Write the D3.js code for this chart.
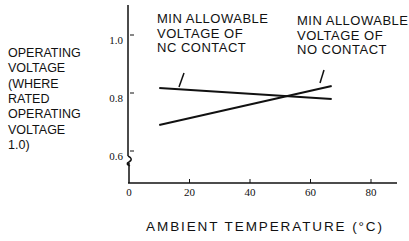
<!DOCTYPE html>
<html>
<head>
<meta charset="utf-8">
<script src="https://cdn.jsdelivr.net/npm/d3@7"></script>
<style>
  body { margin: 0; background: #fff; }
  svg text { fill: #111; }
</style>
</head>
<body>
<div id="chart"></div>
<script>
// data
var temps = [10, 67];
var ncVoltage = [0.817, 0.779];   // min allowable voltage of NC contact
var noVoltage = [0.690, 0.824];   // min allowable voltage of NO contact
var xTicks = [0, 20, 40, 60, 80];
var yTicks = [0.6, 0.8, 1.0];
var yTitle = ["OPERATING", "VOLTAGE", "(WHERE", "RATED", "OPERATING", "VOLTAGE", "1.0)"];
var ncLabel = ["MIN ALLOWABLE", "VOLTAGE OF", "NC CONTACT"];
var noLabel = ["MIN ALLOWABLE", "VOLTAGE OF", "NO CONTACT"];

var svgWidth = 409;
var svgHeight = 241;

var svg = d3.select("#chart")
  .append("svg")
  .attr("width", svgWidth)
  .attr("height", svgHeight);

var axisX = 128, axisY = 183;

var x = d3.scaleLinear().domain([0, 80]).range([129, 371]);
var y = d3.scaleLinear().domain([0.6, 1.0]).range([151, 35]);

// y axis with break
svg.append("path")
  .attr("d", `M${axisX},5 V156 M${axisX},156 q6,3 1,6 q-4,2 1,4 M${axisX + 1},163 V${axisY}`)
  .attr("fill", "none")
  .attr("stroke", "#111")
  .attr("stroke-width", 1.5);

// x axis line
svg.append("line")
  .attr("x1", axisX).attr("x2", 397)
  .attr("y1", axisY).attr("y2", axisY)
  .attr("stroke", "#111")
  .attr("stroke-width", 1.5);

// x ticks and labels
var xg = svg.append("g");
xg.selectAll("line")
  .data(xTicks.filter(d => d > 0))
  .enter().append("line")
  .attr("x1", d => x(d)).attr("x2", d => x(d))
  .attr("y1", axisY - 4).attr("y2", axisY)
  .attr("stroke", "#111");
xg.selectAll("text")
  .data(xTicks)
  .enter().append("text")
  .attr("x", d => x(d))
  .attr("y", 196)
  .attr("text-anchor", "middle")
  .style("font-family", "Liberation Serif")
  .style("font-size", "11px")
  .text(d => d);

// y ticks and labels
var yg = svg.append("g");
yg.selectAll("line")
  .data(yTicks)
  .enter().append("line")
  .attr("x1", axisX + 2).attr("x2", axisX + 6)
  .attr("y1", d => y(d)).attr("y2", d => y(d))
  .attr("stroke", "#111");
yg.selectAll("text")
  .data(yTicks)
  .enter().append("text")
  .attr("x", 123)
  .attr("y", d => y(d) + 9)
  .attr("text-anchor", "end")
  .style("font-family", "Liberation Serif")
  .style("font-size", "11px")
  .text(d => d3.format(".1f")(d));

// the two lines
var line = d3.line()
  .x((d, i) => x(temps[i]))
  .y(d => y(d));

svg.append("path")
  .datum(ncVoltage)
  .attr("d", line)
  .attr("fill", "none")
  .attr("stroke", "#111")
  .attr("stroke-width", 2);

svg.append("path")
  .datum(noVoltage)
  .attr("d", line)
  .attr("fill", "none")
  .attr("stroke", "#111")
  .attr("stroke-width", 2);

// leader marks from the labels
svg.append("line")
  .attr("x1", 184).attr("y1", 73).attr("x2", 179).attr("y2", 87)
  .attr("stroke", "#111").attr("stroke-width", 1.5);
svg.append("line")
  .attr("x1", 324).attr("y1", 70).attr("x2", 320).attr("y2", 83)
  .attr("stroke", "#111").attr("stroke-width", 1.5);

// text blocks
function block(lines, x0, y0, step, size, spacing) {
  svg.append("g").selectAll("text")
    .data(lines)
    .enter().append("text")
    .attr("x", x0)
    .attr("y", (d, i) => y0 + i * step)
    .style("font-family", "Liberation Sans, Arial, sans-serif")
    .style("font-size", size)
    .style("letter-spacing", spacing)
    .text(d => d);
}

block(yTitle, 8, 57, 15.3, "12.5px", "0px");
block(ncLabel, 157, 23, 14.5, "13px", "0.5px");
block(noLabel, 297, 25, 14.5, "13px", "0.5px");

// x axis title
svg.append("text")
  .attr("x", 265)
  .attr("y", 231)
  .attr("text-anchor", "middle")
  .style("font-family", "Liberation Sans, Arial, sans-serif")
  .style("font-size", "13.5px")
  .style("letter-spacing", "1.9px")
  .text("AMBIENT TEMPERATURE (\u00B0C)");
</script>
</body>
</html>
